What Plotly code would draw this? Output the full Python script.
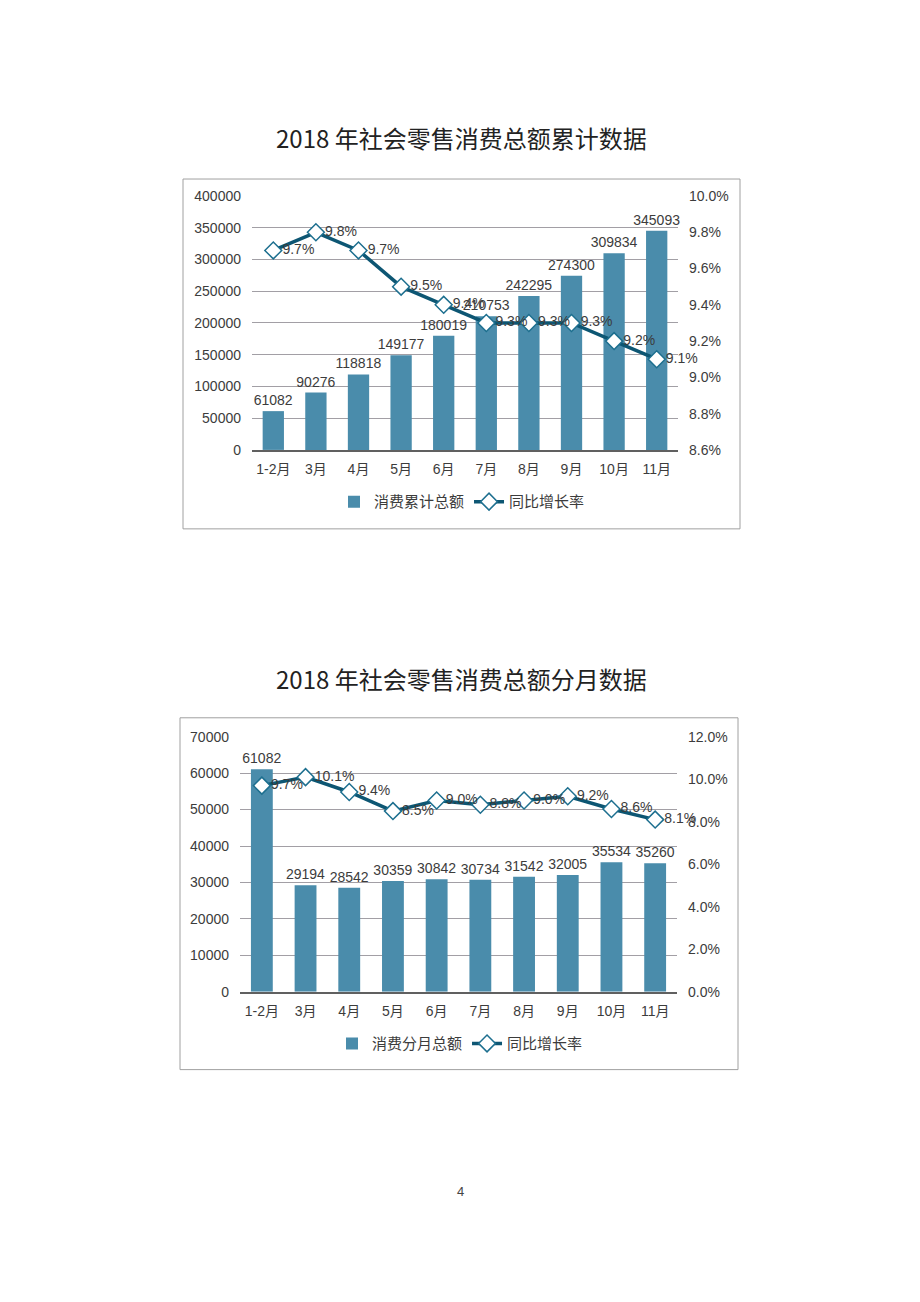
import plotly.graph_objects as go

# ---- data ----
months = ["1-2月", "3月", "4月", "5月", "6月", "7月", "8月", "9月", "10月", "11月"]
cum_total = [61082, 90276, 118818, 149177, 180019, 210753, 242295, 274300, 309834, 345093]
cum_growth = [9.7, 9.8, 9.7, 9.5, 9.4, 9.3, 9.3, 9.3, 9.2, 9.1]
month_total = [61082, 29194, 28542, 30359, 30842, 30734, 31542, 32005, 35534, 35260]
month_growth = [9.7, 10.1, 9.4, 8.5, 9.0, 8.8, 9.0, 9.2, 8.6, 8.1]

title1 = "2018 年社会零售消费总额累计数据"
title2 = "2018 年社会零售消费总额分月数据"
name_bar1 = "消费累计总额"
name_bar2 = "消费分月总额"
name_line = "同比增长率"

# page is 920x1302; the browser adds an 8px body margin on every side
PAGE_W, PAGE_H = 920, 1302
M = 8
W, H = PAGE_W - 2 * M, PAGE_H - 2 * M

BAR = "#4a8cab"
LINE = "#0d5673"
MK_LINE = "#1d6f8f"
TXT = "#3c3c3c"
GRID = "#a29fa5"
FONT = "Liberation Sans, Arial, Noto Sans CJK SC, sans-serif"
CJK = "Noto Sans CJK SC, sans-serif"


def px_x(v):
    return (v - M) / W


def px_y(v):
    # small vertical calibration of the capture
    p = (v - 9) / 0.988
    return 1 - (p - M) / H


fig = go.Figure()

# chart 1
fig.add_trace(go.Bar(
    x=months, y=cum_total, name=name_bar1, marker=dict(color=BAR, line=dict(width=0)),
    width=0.5, text=[str(v) for v in cum_total], textposition="outside", constraintext="none",
    textfont=dict(size=14, color=TXT, family=FONT), cliponaxis=False,
    xaxis="x", yaxis="y", legend="legend"))
fig.add_trace(go.Scatter(
    x=months, y=cum_growth, name=name_line, mode="lines+markers+text",
    text=[f"{v:.1f}%" for v in cum_growth], textposition="middle right",
    textfont=dict(size=14, color=TXT, family=FONT),
    line=dict(color=LINE, width=3.5),
    marker=dict(symbol="diamond", size=13, color="white", line=dict(color=MK_LINE, width=1.5)),
    cliponaxis=False, xaxis="x", yaxis="y2", legend="legend"))

# chart 2
fig.add_trace(go.Bar(
    x=months, y=month_total, name=name_bar2, marker=dict(color=BAR, line=dict(width=0)),
    width=0.5, text=[str(v) for v in month_total], textposition="outside", constraintext="none",
    textfont=dict(size=14, color=TXT, family=FONT), cliponaxis=False,
    xaxis="x2", yaxis="y3", legend="legend2"))
fig.add_trace(go.Scatter(
    x=months, y=month_growth, name=name_line, mode="lines+markers+text",
    text=[f"{v:.1f}%" for v in month_growth], textposition="middle right",
    textfont=dict(size=14, color=TXT, family=FONT),
    line=dict(color=LINE, width=3.5),
    marker=dict(symbol="diamond", size=13, color="white", line=dict(color=MK_LINE, width=1.5)),
    cliponaxis=False, xaxis="x2", yaxis="y4", legend="legend2"))

tickfont = dict(size=14, color=TXT, family=FONT)
xcommon = dict(type="category", showgrid=False, showline=True, linecolor="#606060", linewidth=1.5,
               ticks="", tickfont=tickfont, ticklabelstandoff=6, zeroline=False,
               range=[-0.5, len(months) - 0.5], autorange=False)
ycommon = dict(showgrid=True, gridcolor=GRID, gridwidth=1, zeroline=False, showline=False,
               ticks="", tickfont=tickfont, ticklabelstandoff=10, tickformat="d")

fig.update_layout(
    width=W, height=H, margin=dict(l=0, r=0, t=0, b=0),
    paper_bgcolor="white", plot_bgcolor="white", barmode="overlay",
    font=dict(family=FONT, color=TXT),
    xaxis=dict(xcommon, domain=[px_x(252), px_x(678)], anchor="y"),
    yaxis=dict(ycommon, domain=[px_y(451), px_y(197)], anchor="x", range=[0, 400000], dtick=50000),
    yaxis2=dict(overlaying="y", side="right", anchor="x", range=[8.6, 10.0], dtick=0.2,
                tickformat=".1f", ticksuffix="%", showgrid=False, zeroline=False, ticks="",
                tickfont=tickfont, ticklabelstandoff=10),
    xaxis2=dict(xcommon, domain=[px_x(240), px_x(677)], anchor="y3"),
    yaxis3=dict(ycommon, domain=[px_y(993), px_y(738)], anchor="x2", range=[0, 70000], dtick=10000),
    yaxis4=dict(overlaying="y3", side="right", anchor="x2", range=[0, 12], dtick=2,
                tickformat=".1f", ticksuffix="%", showgrid=False, zeroline=False, ticks="",
                tickfont=tickfont, ticklabelstandoff=10),
    legend=dict(orientation="h", x=px_x(462), xanchor="center", y=px_y(503), yanchor="middle",
                font=dict(size=15, color=TXT, family=CJK), itemwidth=30, bgcolor="rgba(0,0,0,0)"),
    legend2=dict(orientation="h", x=px_x(460), xanchor="center", y=px_y(1045), yanchor="middle",
                 font=dict(size=15, color=TXT, family=CJK), itemwidth=30, bgcolor="rgba(0,0,0,0)"),
    showlegend=True,
)

fig.add_annotation(text=title1, xref="paper", yref="paper", x=px_x(461), y=px_y(138),
                   xanchor="center", yanchor="middle", showarrow=False,
                   font=dict(size=24, color="#222222", family=CJK))
fig.add_annotation(text=title2, xref="paper", yref="paper", x=px_x(461), y=px_y(680),
                   xanchor="center", yanchor="middle", showarrow=False,
                   font=dict(size=24, color="#222222", family=CJK))
fig.add_annotation(text="4", xref="paper", yref="paper", x=px_x(460), y=px_y(1193),
                   xanchor="center", yanchor="middle", showarrow=False,
                   font=dict(size=13, color="#444444", family=FONT))

fig.add_shape(type="rect", xref="paper", yref="paper", x0=px_x(183), x1=px_x(740),
              y0=px_y(530), y1=px_y(180), line=dict(color="#a0a0a0", width=1))
fig.add_shape(type="rect", xref="paper", yref="paper", x0=px_x(180), x1=px_x(738),
              y0=px_y(1071), y1=px_y(719), line=dict(color="#a0a0a0", width=1))

fig.write_html("out.html")
